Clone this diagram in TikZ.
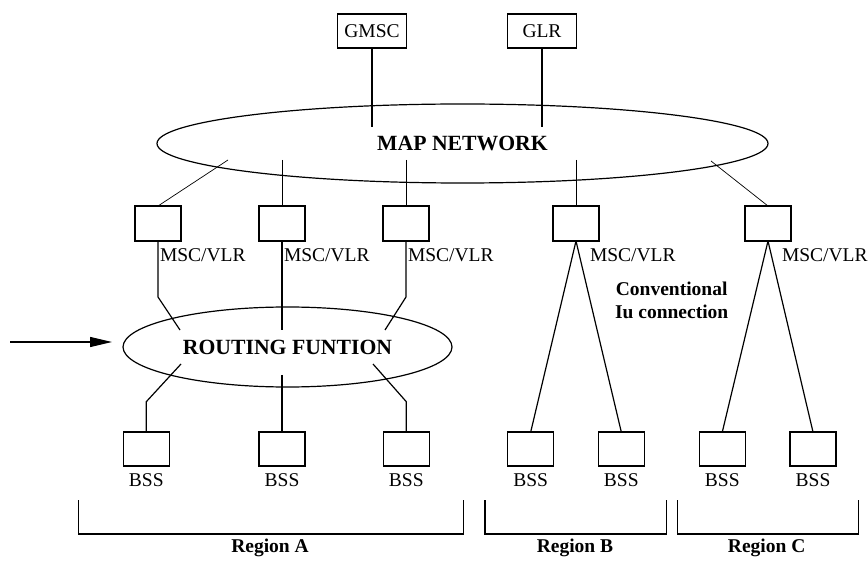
\documentclass[tikz,border=0pt]{standalone}
\usepackage{fontspec}
\setmainfont{Liberation Serif}
\usetikzlibrary{shapes.geometric,arrows.meta}
\begin{document}
\begin{tikzpicture}[x=1pt,y=-1pt,
  every node/.style={inner sep=0pt,outer sep=0pt},
  base/.style={font=\fontsize{19.5}{23}\selectfont},
  bigbold/.style={font=\fontsize{21.7}{25}\selectfont\bfseries},
  smallbold/.style={font=\fontsize{19.5}{23}\selectfont\bfseries},
  topbox/.style={draw,line width=1.2pt,minimum width=69pt,minimum height=34pt,base},
  mscbox/.style={draw,line width=1.2pt,minimum width=46pt,minimum height=35pt},
  bssbox/.style={draw,line width=1.2pt,minimum width=46pt,minimum height=34pt},
  oval/.style={draw,ellipse,line width=1.2pt},
  conn/.style={line width=1.2pt},
  thinconn/.style={line width=0.7pt},
  bracket/.style={line width=1.3pt}
]
\useasboundingbox (0,0) rectangle (868,561);

% top boxes
\node[topbox] (gmsc) at (372,31) {GMSC};
\node[topbox] (glr) at (542,31) {GLR};

% MAP network ellipse
\node[oval,minimum width=611pt,minimum height=79pt,bigbold] (map) at (462.5,143.5) {MAP NETWORK};
\coordinate (gin) at (372,127);
\coordinate (lin) at (542,127);
\draw[conn] (gmsc.south) -- (gin);
\draw[conn] (glr.south) -- (lin);

% MSC/VLR boxes
\node[mscbox] (msc1) at (158,223.5) {};
\node[mscbox] (msc2) at (282,223.5) {};
\node[mscbox] (msc3) at (406,223.5) {};
\node[mscbox] (msc4) at (576,223.5) {};
\node[mscbox] (msc5) at (768,223.5) {};

\node[base,anchor=west] (l1) at (160,255) {MSC/VLR};
\node[base,anchor=west] (l2) at (284,255) {MSC/VLR};
\node[base,anchor=west] (l3) at (408,255) {MSC/VLR};
\node[base,anchor=west] (l4) at (590,255) {MSC/VLR};
\node[base,anchor=west] (l5) at (782,255) {MSC/VLR};

\coordinate (m1) at (228,160);
\coordinate (m2) at (282,160);
\coordinate (m3) at (406,160);
\coordinate (m4) at (576,160);
\coordinate (m5) at (711,161);
\draw[thinconn] (m1) -- (msc1.north);
\draw[thinconn] (m2) -- (msc2.north);
\draw[thinconn] (m3) -- (msc3.north);
\draw[thinconn] (m4) -- (msc4.north);
\draw[thinconn] (m5) -- (msc5.north);

% Routing function
\node[oval,minimum width=329pt,minimum height=80pt,bigbold] (rf) at (287.5,347) {ROUTING FUNTION};
\coordinate (arrstart) at (10,342);
\draw[conn,-{Triangle[length=22pt,width=10pt]}] (arrstart) -- (112,342) coordinate (arrend);

\coordinate (r1) at (180,330);
\coordinate (r2) at (282,330);
\coordinate (r3) at (385,330);
\draw[conn] (msc1.south) -- (158,297) -- (r1);
\draw[conn] (msc2.south) -- (r2);
\draw[conn] (msc3.south) -- (406,297) -- (r3);

% BSS boxes
\node[bssbox] (b1) at (146.3,449) {};
\node[bssbox] (b2) at (282,449) {};
\node[bssbox] (b3) at (406.3,449) {};
\node[bssbox] (b4) at (530.7,449) {};
\node[bssbox] (b5) at (621.3,449) {};
\node[bssbox] (b6) at (722.3,449) {};
\node[bssbox] (b7) at (813,449) {};

\foreach \b in {b1,b2,b3,b4,b5,b6,b7}{
  \node[base] (\b lab) at ([yshift=-14pt]\b.south) {BSS};
}

\coordinate (s1) at (181,364);
\coordinate (s2) at (282,375);
\coordinate (s3) at (373,364);
\draw[conn] (s1) -- (146.3,401.7) -- (b1.north);
\draw[conn] (s2) -- (b2.north);
\draw[conn] (s3) -- (406.3,401.7) -- (b3.north);

\draw[conn] (msc4.south) -- (b4.north);
\draw[conn] (msc4.south) -- (b5.north);
\draw[conn] (msc5.south) -- (b6.north);
\draw[conn] (msc5.south) -- (b7.north);

% Conventional Iu connection
\node[smallbold,align=center] (conv) at (671.7,300) {Conventional\\Iu connection};

% Region brackets
\draw[bracket] (78.3,500) -- (78.3,534) -- (463.3,534) -- (463.3,500);
\draw[bracket] (485,500) -- (485,534) -- (666.7,534) -- (666.7,500);
\draw[bracket] (677.3,500) -- (677.3,534) -- (858.3,534) -- (858.3,500);
\node[smallbold] (ra) at (270,548) {Region A};
\node[smallbold] (rb) at (575,548) {Region B};
\node[smallbold] (rc) at (766.7,548) {Region C};
\end{tikzpicture}
\end{document}
